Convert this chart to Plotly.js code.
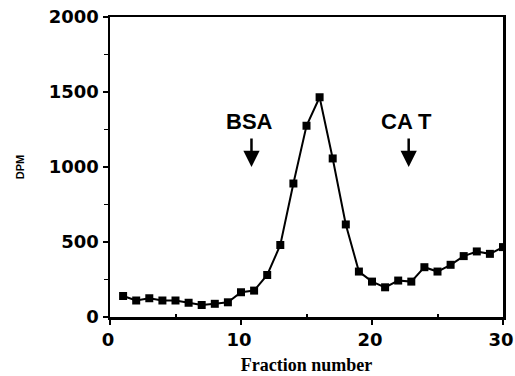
<!DOCTYPE html>
<html>
<head>
<meta charset="utf-8">
<script src="https://cdn.plot.ly/plotly-3.0.1.min.js"></script>
<style>html,body{margin:0;padding:0;background:#fff;}#chart{width:515px;height:376px;}</style>
</head>
<body>
<div id="chart"></div>
<script>
const fractions = [1,2,3,4,5,6,7,8,9,10,11,12,13,14,15,16,17,18,19,20,21,22,23,24,25,26,27,28,29,30];
const dpm = [140,110,125,110,110,95,80,88,98,165,176,280,480,890,1275,1465,1057,617,303,236,198,243,236,332,303,348,406,437,421,466];
const markerLabels = ["BSA", "CA T"];
const markerTextX = [10.65, 22.6];
const markerTextY = [1305, 1305];
const markerArrowX = [10.8, 22.8];
const markerArrowY = [1000, 1000];

const tickFont = {family: "DejaVu Sans", size: 18, color: "#000", weight: "bold"};

const trace = {
  x: fractions, y: dpm, type: "scatter", mode: "lines+markers",
  line: {color: "#000", width: 2},
  marker: {symbol: "square", size: 8, color: "#000"},
  hoverinfo: "none"
};

const annotations = [];
for (let i = 0; i < markerLabels.length; i++) {
  annotations.push({
    x: markerTextX[i], y: markerTextY[i], xref: "x", yref: "y",
    text: "<b>" + markerLabels[i] + "</b>", showarrow: false,
    font: {family: "Liberation Sans", size: 22, color: "#000"}
  });
  annotations.push({
    x: markerArrowX[i], y: markerArrowY[i], xref: "x", yref: "y",
    text: "", showarrow: true, ax: 0, ay: -30,
    arrowhead: 2, arrowsize: 1.3, arrowwidth: 2.5, arrowcolor: "#000"
  });
}

const layout = {
  width: 515, height: 376,
  margin: {l: 110, r: 12, t: 17, b: 59},
  paper_bgcolor: "#fff", plot_bgcolor: "#fff",
  showlegend: false,
  xaxis: {
    range: [0, 30], tickvals: [0, 10, 20, 30], ticktext: ["0", "10", "20", "30"],
    ticks: "outside", ticklen: 5, tickwidth: 2, tickcolor: "#000",
    ticklabeloverflow: "allow", ticklabelshift: -2,
    minor: {tickvals: [5, 15, 25], ticks: "inside", ticklen: 3, tickwidth: 2, tickcolor: "#000"},
    showline: true, linewidth: 2.5, linecolor: "#000", mirror: true,
    showgrid: false, zeroline: false, tickfont: tickFont,
    title: {text: "<b>Fraction number</b>", font: {family: "Liberation Serif", size: 18, color: "#000"}, standoff: 10}
  },
  yaxis: {
    range: [0, 2000], tickvals: [0, 500, 1000, 1500, 2000],
    ticks: "outside", ticklen: 5, tickwidth: 2, tickcolor: "#000",
    ticklabeloverflow: "allow",
    minor: {dtick: 250, ticks: "outside", ticklen: 4, tickwidth: 1.5, tickcolor: "#000"},
    showline: true, linewidth: 2.5, linecolor: "#000", mirror: true,
    showgrid: false, zeroline: false, tickfont: tickFont,
    title: {text: "<b>DPM</b>", font: {family: "Liberation Sans", size: 11, color: "#000"}, standoff: 22}
  },
  annotations: annotations
};

Plotly.newPlot("chart", [trace], layout, {displayModeBar: false, staticPlot: true});
</script>
</body>
</html>
